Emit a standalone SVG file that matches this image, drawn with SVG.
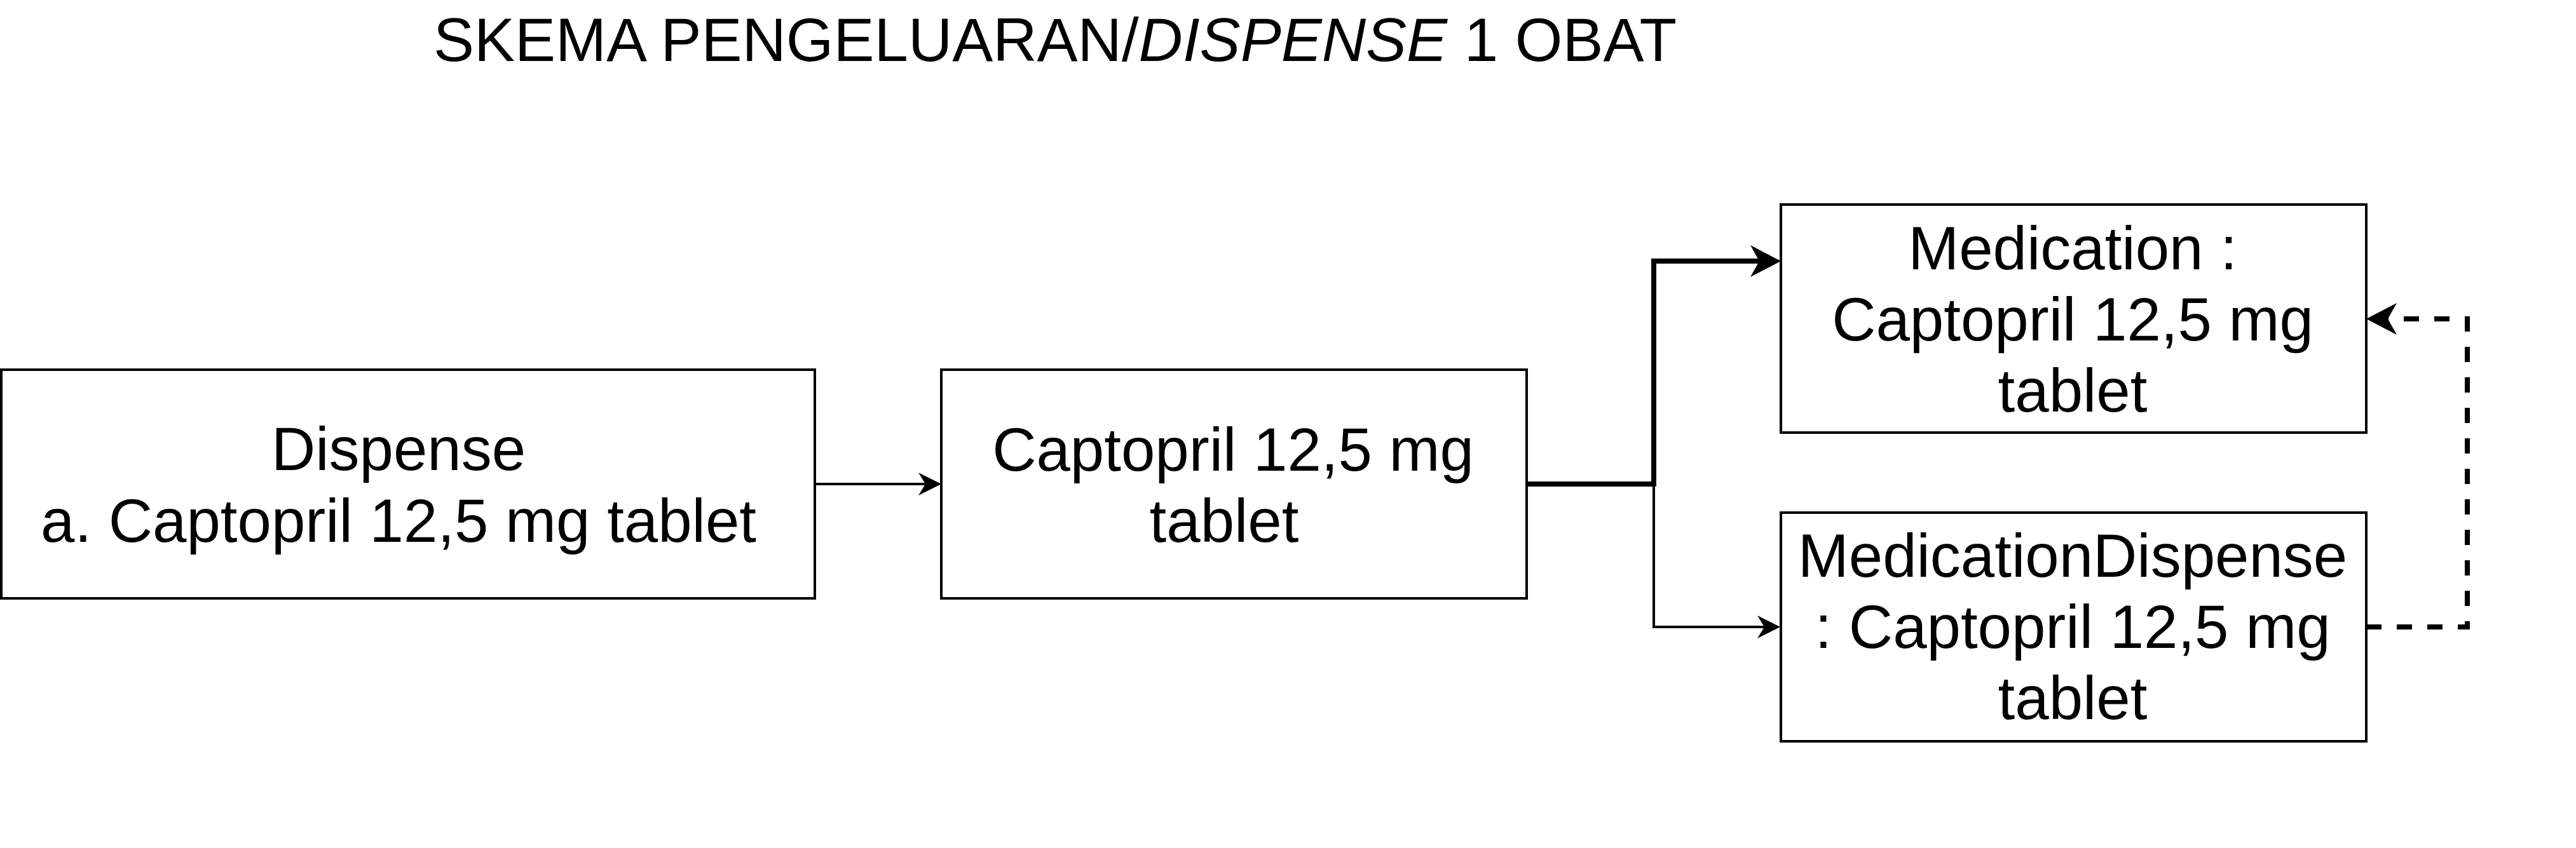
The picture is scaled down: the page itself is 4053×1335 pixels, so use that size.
<svg xmlns="http://www.w3.org/2000/svg" width="4053" height="1335" viewBox="0 0 4053 1335">
  <style>
    .box { fill: #ffffff; stroke: #000000; stroke-width: 4; }
    .lbl { font-family: "Liberation Sans", Arial, Helvetica, sans-serif; font-size: 96px; fill: #000000; text-anchor: middle; }
    .thin { fill: none; stroke: #000000; stroke-width: 4; stroke-linejoin: miter; }
    .thick { fill: none; stroke: #000000; stroke-width: 8; stroke-linejoin: miter; }
    .dash { fill: none; stroke: #000000; stroke-width: 8; stroke-dasharray: 24 24; stroke-linejoin: miter; }
  </style>
  <defs>
    <marker id="arrowThin" markerUnits="userSpaceOnUse" markerWidth="36" markerHeight="36" refX="11" refY="18" orient="auto" overflow="visible">
      <path d="M0,0 L36,18 L0,36 L11,18 Z" fill="#000000"/>
    </marker>
    <marker id="arrowThick" markerUnits="userSpaceOnUse" markerWidth="48" markerHeight="50" refX="14" refY="25" orient="auto" overflow="visible">
      <path d="M0,0 L48,25 L0,50 L14,25 Z" fill="#000000"/>
    </marker>
  </defs>

  <rect width="4053" height="1335" fill="#ffffff"/>

  <g id="title">
    <text class="lbl" x="1660" y="96">SKEMA PENGELUARAN/<tspan font-style="italic">DISPENSE</tspan> 1 OBAT</text>
  </g>

  <g id="connectors">
    <path class="thin" d="M1282,762 H1456" marker-end="url(#arrowThin)"/>
    <path class="thin" d="M2402,762 H2602 V987 H2776" marker-end="url(#arrowThin)"/>
    <path class="thick" d="M2402,762 H2602 V411 H2768" marker-end="url(#arrowThick)"/>
    <path class="dash" d="M3723,987 H3882 V502 H3757" marker-end="url(#arrowThick)"/>
  </g>

  <g id="node-dispense">
    <rect class="box" x="2" y="582" width="1280" height="360"/>
    <text class="lbl" x="627" y="740">Dispense</text>
    <text class="lbl" x="627" y="853">a. Captopril 12,5 mg tablet</text>
  </g>

  <g id="node-captopril">
    <rect class="box" x="1481" y="582" width="921" height="360"/>
    <text class="lbl" x="1940" y="741">Captopril 12,5 mg</text>
    <text class="lbl" x="1926" y="853">tablet</text>
  </g>

  <g id="node-medication">
    <rect class="box" x="2802" y="322" width="921" height="359"/>
    <text class="lbl" x="3261" y="424">Medication :</text>
    <text class="lbl" x="3261" y="536">Captopril 12,5 mg</text>
    <text class="lbl" x="3261" y="648">tablet</text>
  </g>

  <g id="node-medicationdispense">
    <rect class="box" x="2802" y="807" width="921" height="360"/>
    <text class="lbl" x="3261" y="908">MedicationDispense</text>
    <text class="lbl" x="3261" y="1020">: Captopril 12,5 mg</text>
    <text class="lbl" x="3261" y="1132">tablet</text>
  </g>
</svg>
